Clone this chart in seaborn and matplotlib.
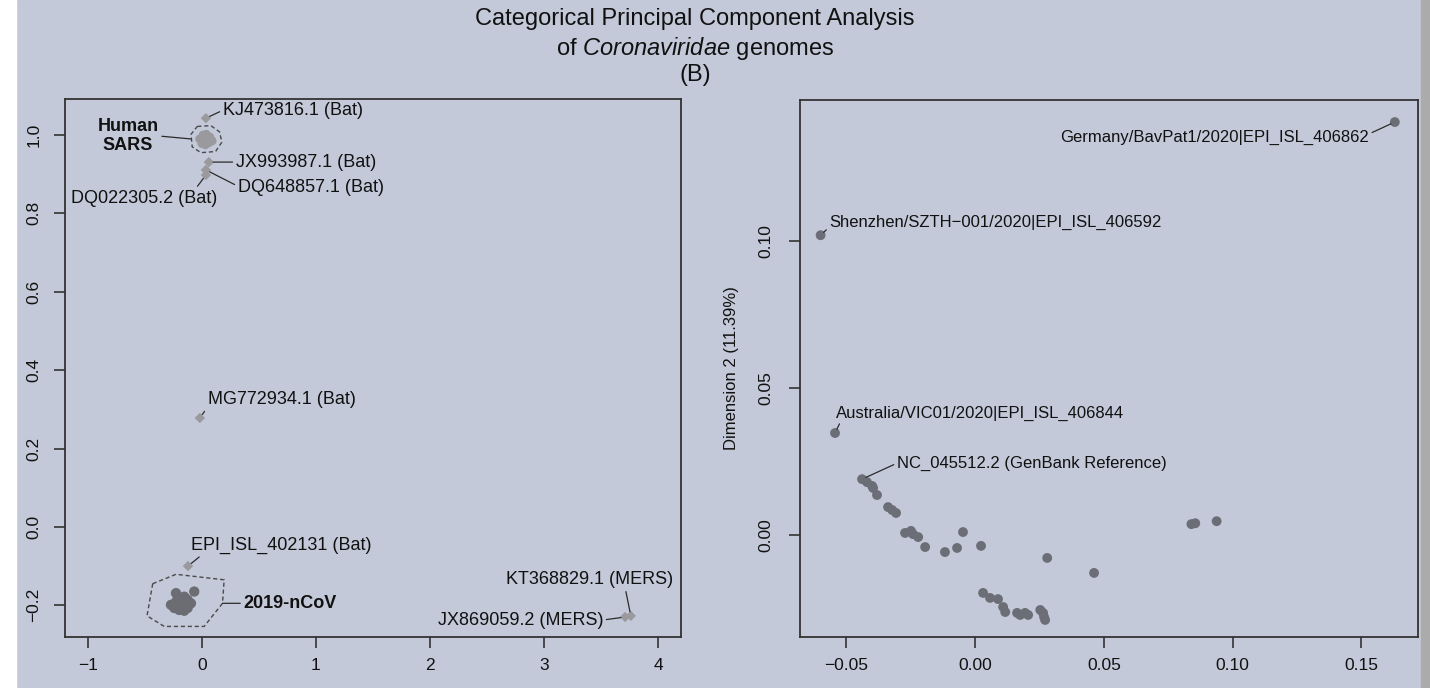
import matplotlib
matplotlib.use("Agg")
import matplotlib.pyplot as plt
from matplotlib.patches import Polygon, Rectangle
import pandas as pd
import seaborn as sns

sns.set_theme(style="ticks")
plt.rcParams['font.family'] = ['Liberation Sans', 'DejaVu Sans']
plt.rcParams['mathtext.fontset'] = 'custom'
plt.rcParams['mathtext.rm'] = 'Liberation Sans'
plt.rcParams['mathtext.it'] = 'Liberation Sans:italic'

BG = '#C3C9D8'
INK = '#2b2b2b'

# ======================================================
# Data - left panel (all Coronaviridae genomes)
# ======================================================
sars_x = [-0.02, 0.01, 0.04, 0.07, 0.09, 0.00, 0.03, 0.06, 0.02, 0.05]
sars_y = [0.990, 1.000, 1.002, 0.995, 0.985, 0.978, 0.975, 0.980, 0.988, 0.992]

bat_names = ["KJ473816.1 (Bat)", "JX993987.1 (Bat)", "DQ648857.1 (Bat)",
             "DQ022305.2 (Bat)", "MG772934.1 (Bat)", "EPI_ISL_402131 (Bat)"]
bat_x = [0.035, 0.061, 0.035, 0.035, -0.018, -0.122]
bat_y = [1.043, 0.931, 0.911, 0.898, 0.278, -0.100]

mers_names = ["KT368829.1 (MERS)", "JX869059.2 (MERS)"]
mers_x = [3.76, 3.71]
mers_y = [-0.227, -0.230]

ncov_x = [-0.227, -0.067, -0.271, -0.213, -0.184, -0.155, -0.125, -0.096,
          -0.242, -0.199, -0.155, -0.125, -0.184, -0.140, -0.227]
ncov_y = [-0.169, -0.165, -0.199, -0.186, -0.182, -0.178, -0.186, -0.195,
          -0.207, -0.212, -0.214, -0.207, -0.199, -0.199, -0.191]

sars_hull_x = [-0.040, 0.079, 0.155, 0.175, 0.120, -0.009, -0.085, -0.095]
sars_hull_y = [1.022, 1.024, 1.008, 0.982, 0.958, 0.955, 0.970, 1.002]
ncov_hull_x = [-0.431, -0.227, 0.195, 0.181, 0.020, -0.330, -0.481]
ncov_hull_y = [-0.145, -0.121, -0.135, -0.195, -0.254, -0.254, -0.227]

# ======================================================
# Data - right panel (2019-nCoV genomes only)
# ======================================================
named_names = ["Germany/BavPat1/2020|EPI_ISL_406862",
               "Shenzhen/SZTH\u2212001/2020|EPI_ISL_406592",
               "Australia/VIC01/2020|EPI_ISL_406844",
               "NC_045512.2 (GenBank Reference)"]
named_x = [0.163, -0.060, -0.0544, -0.0439]
named_y = [0.1405, 0.102, 0.0347, 0.0190]

dim1 = [-0.0420, -0.0400, -0.0396, -0.0381, -0.0338, -0.0322, -0.0307,
        -0.0272, -0.0249, -0.0241, -0.0221, -0.0194, -0.0117, -0.0070,
        -0.0047, 0.0023, 0.0031, 0.0058, 0.0089, 0.0109, 0.0117, 0.0163,
        0.0175, 0.0194, 0.0206, 0.0253, 0.0264, 0.0268, 0.0272, 0.0280,
        0.0462, 0.0840, 0.0855, 0.0938]
dim2 = [0.0180, 0.0167, 0.0160, 0.0136, 0.0095, 0.0085, 0.0075,
        0.0007, 0.0014, 0.0003, -0.0007, -0.0041, -0.0058, -0.0044,
        0.0010, -0.0037, -0.0197, -0.0214, -0.0218, -0.0245, -0.0262, -0.0265,
        -0.0272, -0.0265, -0.0272, -0.0255, -0.0265, -0.0279, -0.0289, -0.0078,
        -0.0129, 0.0037, 0.0040, 0.0047]

# label offsets in pixels (text anchor relative to point) and leader attach point
bat_offsets = [(17, 8, 'left', (0, 0.5)), (27, 0, 'left', (0, 0.5)),
               (32, -18, 'left', (0, 0.6)), (-62, -23, 'center', (0.85, 1.0)),
               (8, 18, 'left', (0, 0.1)), (3, 21, 'left', (0.08, 0.1))]
mers_offsets = [(-41, 36, 'center', (0.71, 0.1)), (-22, -3, 'right', (1, 0.5))]
named_offsets = [(-26, -15, 'right', (1, 0.7)), (9, 13, 'left', (0, 0.2)),
                 (1, 20, 'left', (0.02, 0.1)), (35, 16, 'left', (0, 0.5))]

# ======================================================
# Figure
# ======================================================
fig = plt.figure(figsize=(14.3, 6.88), dpi=100, facecolor=BG)
fig.add_artist(Rectangle((0, 0), 16 / 1430, 1, transform=fig.transFigure,
                         color='white', zorder=0))
fig.add_artist(Rectangle((1421 / 1430, 0), 9 / 1430, 1, transform=fig.transFigure,
                         color='#ABABAB', zorder=0))

axL = fig.add_axes([65 / 1430, 1 - 637 / 688, 616 / 1430, 538 / 688])
axR = fig.add_axes([800 / 1430, 1 - 637 / 688, 618 / 1430, 537 / 688])


def leader(ax, text, x, y, off, ha, rel, size):
    ax.annotate(text, xy=(x, y), xytext=off, textcoords='offset pixels',
                ha=ha, va='center', fontsize=size, color='#111111',
                arrowprops=dict(arrowstyle='-', color=INK, lw=0.9,
                                shrinkA=0, shrinkB=3, relpos=rel))


# ---------------- left panel ----------------
sns.scatterplot(x=sars_x, y=sars_y, ax=axL, marker='o', s=40, color='#9a9a9e',
                edgecolor='none', zorder=3)
sns.scatterplot(x=bat_x, y=bat_y, ax=axL, marker='D', s=28, color='#9a9a9e',
                edgecolor='none', zorder=3)
sns.scatterplot(x=mers_x, y=mers_y, ax=axL, marker='D', s=28, color='#9a9a9e',
                edgecolor='none', zorder=3)
sns.scatterplot(x=ncov_x, y=ncov_y, ax=axL, marker='o', s=55, color='#6c6d72',
                edgecolor='none', zorder=3)

for hx, hy in [(sars_hull_x, sars_hull_y), (ncov_hull_x, ncov_hull_y)]:
    axL.add_patch(Polygon(list(zip(hx, hy)), closed=True, fill=False,
                          ec='#4a4a4a', lw=1.0, ls=(0, (3, 2)), zorder=2))

for name, x, y, (dx, dy, ha, rel) in zip(bat_names, bat_x, bat_y, bat_offsets):
    leader(axL, name, x, y, (dx, dy), ha, rel, 13)
for name, x, y, (dx, dy, ha, rel) in zip(mers_names, mers_x, mers_y, mers_offsets):
    leader(axL, name, x, y, (dx, dy), ha, rel, 13)

axL.annotate("Human\nSARS", xy=(sars_hull_x[-1], 0.99), xytext=(-63, 3),
             textcoords='offset pixels', ha='center', va='center', fontsize=13,
             fontweight='bold', color='#111111', linespacing=1.15,
             arrowprops=dict(arrowstyle='-', color=INK, lw=0.9, shrinkA=0,
                             shrinkB=0, relpos=(1, 0.5)))
axL.annotate("2019-nCoV", xy=(ncov_hull_x[3], ncov_hull_y[3]), xytext=(21, 0),
             textcoords='offset pixels', ha='left', va='center', fontsize=13,
             fontweight='bold', color='#111111',
             arrowprops=dict(arrowstyle='-', color=INK, lw=0.9, shrinkA=0,
                             shrinkB=0, relpos=(0, 0.5)))

axL.set_xlim(-1.2, 4.2)
axL.set_ylim(-0.281, 1.092)
axL.set_xticks([-1, 0, 1, 2, 3, 4])
axL.set_yticks([-0.2, 0.0, 0.2, 0.4, 0.6, 0.8, 1.0])

# ---------------- right panel ----------------
sns.scatterplot(x=dim1 + named_x, y=dim2 + named_y, ax=axR, marker='o', s=50,
                color='#6b6e76', edgecolor='none', zorder=3)
for name, x, y, (dx, dy, ha, rel) in zip(named_names, named_x, named_y, named_offsets):
    leader(axR, name, x, y, (dx, dy), ha, rel, 12)

axR.set_xlim(-0.068, 0.172)
axR.set_ylim(-0.0347, 0.148)
axR.set_xticks([-0.05, 0.00, 0.05, 0.10, 0.15])
axR.set_yticks([0.00, 0.05, 0.10])
axR.set_ylabel("Dimension 2 (11.39%)", fontsize=12, color='#111111', labelpad=14)

for ax, ypad in [(axL, 9), (axR, 11)]:
    ax.set_facecolor(BG)
    for sp in ax.spines.values():
        sp.set_visible(True)
        sp.set_color('#333333')
        sp.set_linewidth(1.3)
    ax.tick_params(axis='both', direction='out', length=8, width=1.2,
                   color='#333333', labelsize=12.5, labelcolor='#111111')
    ax.tick_params(axis='x', pad=7)
    ax.tick_params(axis='y', labelrotation=90, pad=ypad)
    for lbl in ax.get_yticklabels():
        lbl.set_va('center')
    ax.grid(False)

# ---------------- titles ----------------
fig.text(695 / 1430, 1 - 19 / 688, "Categorical Principal Component Analysis",
         ha='center', va='center', fontsize=17, color='#111111')
fig.text(695 / 1430, 1 - 48 / 688, "of $\\it{Coronaviridae}$ genomes",
         ha='center', va='center', fontsize=17, color='#111111')
fig.text(695 / 1430, 1 - 75 / 688, "(B)",
         ha='center', va='center', fontsize=17, color='#111111')

fig.savefig("out.png", dpi=100, facecolor=BG)
